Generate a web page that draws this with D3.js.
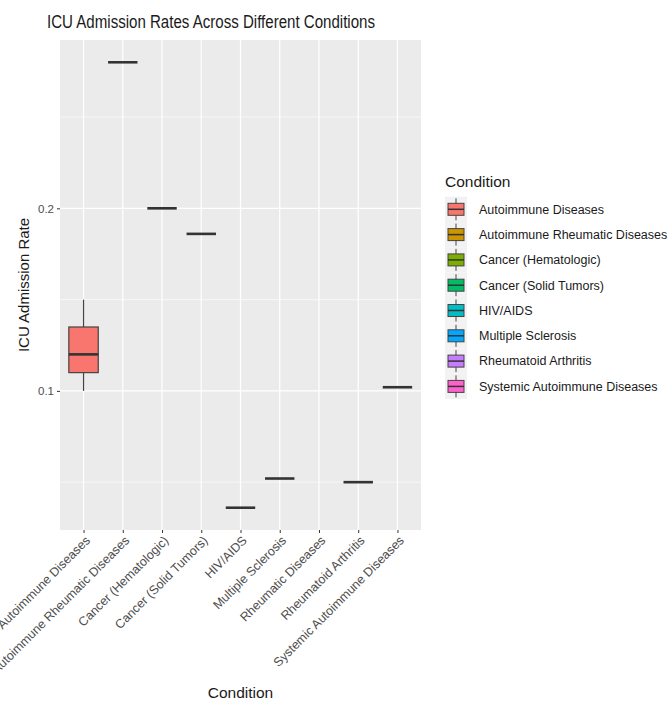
<!DOCTYPE html>
<html>
<head>
<meta charset="utf-8">
<script src="https://cdn.jsdelivr.net/npm/d3@7"></script>
<style>
  body { margin: 0; background: #fff; }
  svg { display: block; font-family: "Liberation Sans", Arial, sans-serif; }
</style>
</head>
<body>
<div id="chart"></div>
<script>
// categorias del eje x (Rheumatic Diseases no tiene datos)
const conditions = ['Autoimmune Diseases', 'Autoimmune Rheumatic Diseases', 'Cancer (Hematologic)',
  'Cancer (Solid Tumors)', 'HIV/AIDS', 'Multiple Sclerosis', 'Rheumatic Diseases',
  'Rheumatoid Arthritis', 'Systemic Autoimmune Diseases'];

// observaciones por condicion
const rates = [
  [0.10, 0.11, 0.12, 0.135, 0.15],
  [0.28],
  [0.20],
  [0.186],
  [0.036],
  [0.052],
  [],
  [0.050],
  [0.102]
];

// leyenda
const legendConditions = ['Autoimmune Diseases', 'Autoimmune Rheumatic Diseases', 'Cancer (Hematologic)',
  'Cancer (Solid Tumors)', 'HIV/AIDS', 'Multiple Sclerosis', 'Rheumatoid Arthritis',
  'Systemic Autoimmune Diseases'];
const legendColors = ['#F8766D', '#CD9600', '#7CAE00', '#00BE67', '#00BFC4', '#00A9FF', '#C77CFF', '#FF61CC'];

const yTicks = [0.1, 0.2];
const yMinorTicks = [0.05, 0.15, 0.25];

const W = 672, H = 702;
const panel = {left: 60, right: 421, top: 40, bottom: 530};

const svg = d3.select('#chart').append('svg')
  .attr('width', W)
  .attr('height', H);

// escalas
const allVals = rates.flat();
const lo = d3.min(allVals), hi = d3.max(allVals);
const pad = (hi - lo) * 0.05;

const x = d3.scalePoint()
  .domain(conditions)
  .range([panel.left, panel.right])
  .padding(0.6);

const y = d3.scaleLinear()
  .domain([lo - pad, hi + pad])
  .range([panel.bottom, panel.top]);

const color = d3.scaleOrdinal().domain(legendConditions).range(legendColors);

// panel
svg.append('rect')
  .attr('x', panel.left).attr('y', panel.top)
  .attr('width', panel.right - panel.left)
  .attr('height', panel.bottom - panel.top)
  .attr('fill', '#EBEBEB');

const grid = svg.append('g');
grid.selectAll('.minor')
  .data(yMinorTicks)
  .enter().append('line')
    .attr('x1', panel.left).attr('x2', panel.right)
    .attr('y1', d => y(d)).attr('y2', d => y(d))
    .attr('stroke', '#fff').attr('stroke-width', 0.6);
grid.selectAll('.major')
  .data(yTicks)
  .enter().append('line')
    .attr('x1', panel.left).attr('x2', panel.right)
    .attr('y1', d => y(d)).attr('y2', d => y(d))
    .attr('stroke', '#fff').attr('stroke-width', 1.2);
grid.selectAll('.vmajor')
  .data(conditions)
  .enter().append('line')
    .attr('x1', d => x(d)).attr('x2', d => x(d))
    .attr('y1', panel.top).attr('y2', panel.bottom)
    .attr('stroke', '#fff').attr('stroke-width', 1.2);

// boxplots
const boxW = x.step() * 0.75;
const stats = conditions.map((c, i) => {
  const v = rates[i].slice().sort(d3.ascending);
  if (!v.length) return null;
  const q1 = d3.quantile(v, 0.25), med = d3.quantile(v, 0.5), q3 = d3.quantile(v, 0.75);
  const iqr = q3 - q1;
  const wLo = d3.min(v.filter(d => d >= q1 - 1.5 * iqr));
  const wHi = d3.max(v.filter(d => d <= q3 + 1.5 * iqr));
  return {c, q1, med, q3, wLo, wHi};
}).filter(d => d);

const boxes = svg.append('g').selectAll('g')
  .data(stats)
  .enter().append('g');

boxes.append('line')
  .attr('x1', d => x(d.c)).attr('x2', d => x(d.c))
  .attr('y1', d => y(d.wHi)).attr('y2', d => y(d.q3))
  .attr('stroke', '#444').attr('stroke-width', 1.2);
boxes.append('line')
  .attr('x1', d => x(d.c)).attr('x2', d => x(d.c))
  .attr('y1', d => y(d.q1)).attr('y2', d => y(d.wLo))
  .attr('stroke', '#444').attr('stroke-width', 1.2);
boxes.append('rect')
  .attr('x', d => x(d.c) - boxW / 2)
  .attr('y', d => y(d.q3))
  .attr('width', boxW)
  .attr('height', d => y(d.q1) - y(d.q3))
  .attr('fill', d => color(d.c))
  .attr('stroke', '#444').attr('stroke-width', 1.2);
boxes.append('line')
  .attr('x1', d => x(d.c) - boxW / 2).attr('x2', d => x(d.c) + boxW / 2)
  .attr('y1', d => y(d.med)).attr('y2', d => y(d.med))
  .attr('stroke', '#333').attr('stroke-width', 2.6);

// ejes
const yAxis = svg.append('g')
  .attr('transform', `translate(${panel.left},0)`)
  .call(d3.axisLeft(y).tickValues(yTicks).tickFormat(d3.format('.1f')).tickSize(3).tickPadding(3));
yAxis.select('.domain').remove();
yAxis.selectAll('line').attr('stroke', '#333');
yAxis.selectAll('text').attr('fill', '#4D4D4D').style('font-size', '11.5px');

const xAxis = svg.append('g')
  .attr('transform', `translate(0,${panel.bottom})`)
  .call(d3.axisBottom(x).tickSize(3).tickFormat(''));
xAxis.select('.domain').remove();
xAxis.selectAll('line').attr('stroke', '#333');

// etiquetas del eje x, giradas (las primeras quedan cortadas en el borde como en el original)
svg.append('g').selectAll('text')
  .data(conditions)
  .enter().append('text')
    .attr('transform', d => `translate(${x(d) + 1},${panel.bottom + 5}) rotate(-45)`)
    .attr('text-anchor', 'end')
    .attr('dy', '0.71em')
    .attr('fill', '#4D4D4D')
    .style('font-size', '12.5px')
    .text(d => d);

// titulos
svg.append('text')
  .attr('x', 47).attr('y', 28)
  .style('font-size', '17.5px')
  .attr('textLength', 328)
  .attr('lengthAdjust', 'spacingAndGlyphs')
  .attr('fill', '#1a1a1a')
  .text('ICU Admission Rates Across Different Conditions');

svg.append('text')
  .attr('transform', `translate(29,${(panel.top + panel.bottom) / 2}) rotate(-90)`)
  .attr('text-anchor', 'middle')
  .style('font-size', '15px')
  .attr('fill', '#1a1a1a')
  .text('ICU Admission Rate');

svg.append('text')
  .attr('x', (panel.left + panel.right) / 2).attr('y', 698)
  .attr('text-anchor', 'middle')
  .style('font-size', '15.5px')
  .attr('fill', '#1a1a1a')
  .text('Condition');

// leyenda
const legend = svg.append('g').attr('transform', 'translate(445,0)');
legend.append('text')
  .attr('x', 0).attr('y', 187)
  .style('font-size', '15.5px')
  .attr('fill', '#1a1a1a')
  .text('Condition');

const keyH = 25.3, key0 = 209.3;
const items = legend.selectAll('.item')
  .data(legendConditions)
  .enter().append('g')
    .attr('transform', (d, i) => `translate(0,${key0 + i * keyH})`);

items.append('rect')
  .attr('x', 0).attr('y', -keyH / 2)
  .attr('width', 22).attr('height', keyH)
  .attr('fill', '#F2F2F2');
items.append('line')
  .attr('x1', 11).attr('x2', 11).attr('y1', -11).attr('y2', 11)
  .attr('stroke', '#444').attr('stroke-width', 1);
items.append('rect')
  .attr('x', 3).attr('y', -6)
  .attr('width', 16).attr('height', 12)
  .attr('fill', d => color(d))
  .attr('stroke', '#444').attr('stroke-width', 1);
items.append('line')
  .attr('x1', 3).attr('x2', 19).attr('y1', 0).attr('y2', 0)
  .attr('stroke', '#333').attr('stroke-width', 1.5);
items.append('text')
  .attr('x', 34).attr('y', 0)
  .attr('dy', '0.35em')
  .style('font-size', '12.5px')
  .attr('fill', '#1a1a1a')
  .text(d => d);
</script>
</body>
</html>
